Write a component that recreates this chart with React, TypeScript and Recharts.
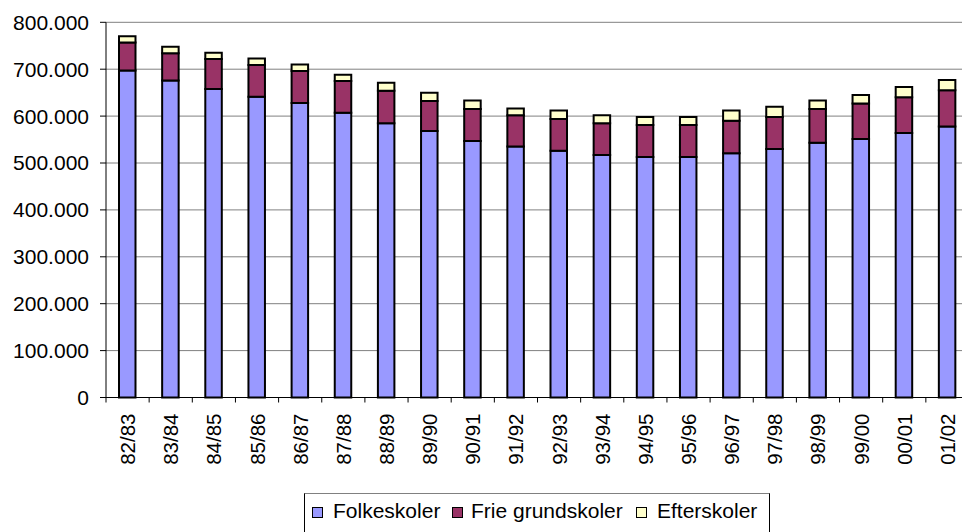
import React from 'react';
import { BarChart, Bar, XAxis, YAxis, CartesianGrid, Legend } from 'recharts';

const categories = ['82/83', '83/84', '84/85', '85/86', '86/87', '87/88', '88/89', '89/90', '90/91', '91/92', '92/93', '93/94', '94/95', '95/96', '96/97', '97/98', '98/99', '99/00', '00/01', '01/02'];
const folkeskoler = [697000, 676000, 658000, 641000, 628000, 607000, 585000, 568000, 547000, 535000, 526000, 517000, 513000, 513000, 521000, 530000, 543000, 551000, 564000, 578000];
const frieGrundskoler = [60000, 58000, 64000, 68000, 68000, 68000, 69000, 64000, 68000, 67000, 68000, 68000, 68000, 68000, 69000, 68000, 72000, 76000, 76000, 77000];
const efterskoler = [13000, 14000, 13000, 14000, 14000, 13000, 17000, 18000, 18000, 14000, 18000, 17000, 17000, 17000, 22000, 22000, 18000, 18000, 22000, 22000];
const yTicks = [0, 100000, 200000, 300000, 400000, 500000, 600000, 700000, 800000];
const seriesNames = ['Folkeskoler', 'Frie grundskoler', 'Efterskoler'];
const seriesColors = ['#9999FF', '#993366', '#FFFFCC'];

const data = categories.map((c, i) => ({
  name: c,
  folk: folkeskoler[i],
  frie: frieGrundskoler[i],
  efter: efterskoler[i],
}));

const FONT = '"Liberation Sans", Arial, sans-serif';
const CHART_W = 990;
const CHART_H = 532;
const MARGIN = { top: 22.3, right: 21, bottom: 34.5, left: 0 };
const Y_AXIS_W = 106;
const X_AXIS_H = 100;
const PLOT_W = CHART_W - MARGIN.left - MARGIN.right - Y_AXIS_W;
const BAND = PLOT_W / categories.length;
const X_TICK_SIZE = 5;
const X_TICK_MARGIN = 11;

const fmt = (v: number) => String(v).replace(/\B(?=(\d{3})+(?!\d))/g, '.');

const XTick = (props: any) => {
  const { x, y, payload } = props;
  const axisY = y - X_TICK_SIZE - X_TICK_MARGIN;
  const lx = x - BAND / 2;
  return (
    <g>
      <line x1={lx} x2={lx} y1={axisY} y2={axisY + X_TICK_SIZE} stroke="#000" strokeWidth={1} />
      <text
        x={x}
        y={y}
        transform={`rotate(-90, ${x}, ${y})`}
        textAnchor="end"
        dominantBaseline="central"
        fontFamily={FONT}
        fontSize={20.5}
        fill="#000"
      >
        {payload.value}
      </text>
    </g>
  );
};

const LegendContent = () => {
  const squares = [8, 148, 332];
  const texts = [29, 167, 353];
  return (
    <div
      style={{
        position: 'relative',
        width: 466,
        height: 40,
        boxSizing: 'border-box',
        border: '1px solid #000',
        borderTopColor: '#808080',
        background: '#fff',
        fontFamily: FONT,
        fontSize: 21,
        color: '#000',
      }}
    >
      {seriesNames.map((n, i) => (
        <React.Fragment key={n}>
          <div
            style={{
              position: 'absolute',
              left: squares[i] - 1,
              top: 13,
              width: 11,
              height: 11,
              boxSizing: 'border-box',
              border: '1.5px solid #000',
              background: seriesColors[i],
            }}
          />
          <div
            style={{
              position: 'absolute',
              left: texts[i] - 1,
              top: 5,
              lineHeight: '24px',
              whiteSpace: 'nowrap',
            }}
          >
            {n}
          </div>
        </React.Fragment>
      ))}
    </div>
  );
};

export default function App() {
  return (
    <div
      style={{
        position: 'absolute',
        left: 0,
        top: 0,
        width: 962,
        height: 532,
        overflow: 'hidden',
        background: '#fff',
      }}
    >
      <BarChart width={CHART_W} height={CHART_H} data={data} margin={MARGIN} barSize={16.5}>
        <CartesianGrid vertical={false} stroke="#808080" strokeWidth={1} />
        <XAxis
          dataKey="name"
          height={X_AXIS_H}
          interval={0}
          axisLine={{ stroke: '#000', strokeWidth: 1 }}
          tickLine={false}
          tickSize={X_TICK_SIZE}
          tickMargin={X_TICK_MARGIN}
          tick={<XTick />}
        />
        <YAxis
          width={Y_AXIS_W}
          domain={[0, 800000]}
          ticks={yTicks}
          interval={0}
          tickFormatter={fmt}
          axisLine={{ stroke: '#000', strokeWidth: 1 }}
          tickLine={{ stroke: '#000', strokeWidth: 1 }}
          tickSize={6}
          tickMargin={11}
          tick={{ fill: '#000', fontFamily: FONT, fontSize: 21 }}
        />
        <Legend
          layout="horizontal"
          verticalAlign="middle"
          align="center"
          content={<LegendContent />}
          wrapperStyle={{ position: 'absolute', left: 304, top: 492.5, width: 466, height: 40 }}
        />
        <Bar dataKey="folk" name={seriesNames[0]} stackId="a" fill={seriesColors[0]} stroke="#000" strokeWidth={2} isAnimationActive={false} />
        <Bar dataKey="frie" name={seriesNames[1]} stackId="a" fill={seriesColors[1]} stroke="#000" strokeWidth={2} isAnimationActive={false} />
        <Bar dataKey="efter" name={seriesNames[2]} stackId="a" fill={seriesColors[2]} stroke="#000" strokeWidth={2} isAnimationActive={false} />
      </BarChart>
    </div>
  );
}
